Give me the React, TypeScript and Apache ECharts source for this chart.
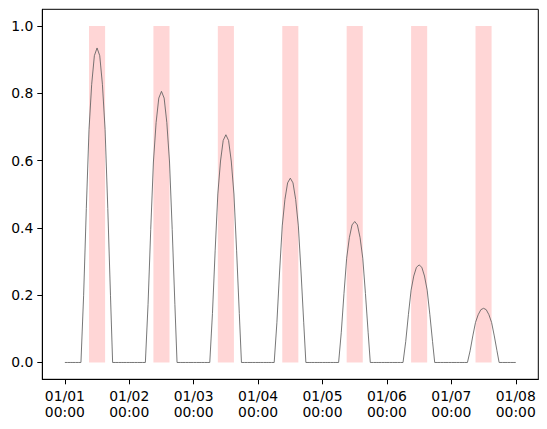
import React, { useEffect, useRef } from "react";
import * as echarts from "echarts";

// x values are hours since 01/01 00:00
const tickHours = [0, 24, 48, 72, 96, 120, 144, 168];
const tickLabels = [
  "01/01\n00:00",
  "01/02\n00:00",
  "01/03\n00:00",
  "01/04\n00:00",
  "01/05\n00:00",
  "01/06\n00:00",
  "01/07\n00:00",
  "01/08\n00:00",
];
const yTicks = [0, 0.2, 0.4, 0.6, 0.8, 1.0];

// night hours (value 0) and daytime hours with values read per day
const nightHours = [0, 1, 2, 3, 4, 5, 6, 18, 19, 20, 21, 22, 23];
const daytimeHours = [6.2, 7, 8, 9, 10, 11, 12, 13, 14, 15, 16, 17, 17.8];
const day1 = [0, 0.2, 0.458, 0.692, 0.827, 0.912, 0.935, 0.912, 0.827, 0.692, 0.458, 0.2, 0];
const day2 = [0, 0.173, 0.395, 0.596, 0.713, 0.786, 0.806, 0.786, 0.713, 0.596, 0.395, 0.173, 0];
const day3 = [0, 0.146, 0.332, 0.501, 0.599, 0.66, 0.677, 0.66, 0.599, 0.501, 0.332, 0.146, 0];
const day4 = [0, 0.118, 0.269, 0.406, 0.485, 0.534, 0.548, 0.534, 0.485, 0.406, 0.269, 0.118, 0];
const day5 = [0, 0.09, 0.205, 0.31, 0.371, 0.409, 0.419, 0.409, 0.371, 0.31, 0.205, 0.09, 0];
const day6 = [0, 0.062, 0.142, 0.215, 0.257, 0.283, 0.29, 0.283, 0.257, 0.215, 0.142, 0.062, 0];
const day7 = [0, 0.035, 0.079, 0.119, 0.142, 0.157, 0.161, 0.157, 0.142, 0.119, 0.079, 0.035, 0];
const days = [day1, day2, day3, day4, day5, day6, day7];
const endHour = 168;

// shaded windows (hours since start)
const spanStarts = [9, 33, 57, 81, 105, 129, 153];
const spanEnds = [15, 39, 63, 87, 111, 135, 159];
const spanTop = 1;

function buildSeries(): [number, number][] {
  const out: [number, number][] = [];
  days.forEach((vals, d) => {
    const pts: [number, number][] = [];
    nightHours.forEach((h) => pts.push([d * 24 + h, 0]));
    daytimeHours.forEach((h, i) => pts.push([d * 24 + h, vals[i]]));
    pts.sort((a, b) => a[0] - b[0]);
    out.push(...pts);
  });
  out.push([endHour, 0]);
  return out;
}

export default function App() {
  const ref = useRef<HTMLDivElement>(null);
  useEffect(() => {
    if (!ref.current) return;
    const chart = echarts.init(ref.current, null, { renderer: "svg" });
    const font = "DejaVu Sans";
    chart.setOption({
      animation: false,
      backgroundColor: "#fff",
      grid: {
        left: 42.3,
        right: 8.7,
        top: 9.3,
        bottom: 49.7,
        show: true,
        borderColor: "#000",
        borderWidth: 1,
        backgroundColor: "transparent",
      },
      xAxis: {
        type: "value",
        min: -8.4,
        max: 176.4,
        splitLine: { show: false },
        axisLine: { show: true, onZero: false, lineStyle: { color: "#000", width: 1 } },
        axisTick: { show: true, length: 5, customValues: tickHours, lineStyle: { color: "#000" } },
        axisLabel: {
          customValues: tickHours,
          margin: 9,
          color: "#000",
          fontFamily: font,
          fontSize: 13.9,
          lineHeight: 16,
          formatter: (v: number) => {
            const i = tickHours.indexOf(Math.round(v));
            return i >= 0 ? tickLabels[i] : "";
          },
        },
      },
      yAxis: {
        type: "value",
        min: -0.05,
        max: 1.05,
        splitLine: { show: false },
        axisLine: { show: true, onZero: false, lineStyle: { color: "#000", width: 1 } },
        axisTick: { show: true, length: 5, customValues: yTicks, lineStyle: { color: "#000" } },
        axisLabel: {
          customValues: yTicks,
          margin: 9,
          color: "#000",
          fontFamily: font,
          fontSize: 13.9,
          formatter: (v: number) => v.toFixed(1),
        },
      },
      series: [
        {
          type: "line",
          data: [],
          silent: true,
          z: 1,
          markArea: {
            silent: true,
            itemStyle: { color: "rgba(255,0,0,0.16)" },
            data: spanStarts.map((s, i) => [
              { xAxis: s, yAxis: 0 },
              { xAxis: spanEnds[i], yAxis: spanTop },
            ]),
          },
        },
        {
          type: "line",
          data: buildSeries(),
          showSymbol: false,
          silent: true,
          z: 5,
          lineStyle: { color: "#5f5f5f", width: 0.85 },
        },
      ],
    });
    return () => chart.dispose();
  }, []);
  return <div ref={ref} style={{ width: 547, height: 429, position: "absolute", left: 0, top: 0 }} />;
}
